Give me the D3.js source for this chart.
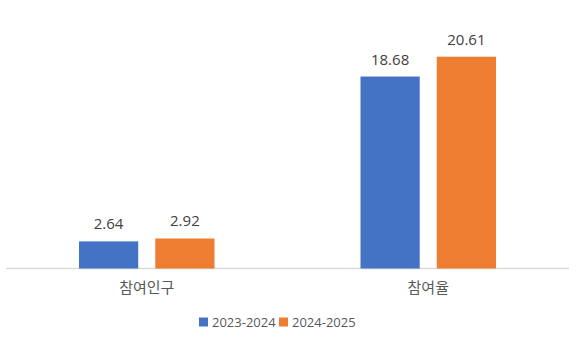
<!DOCTYPE html>
<html><head><meta charset="utf-8">
<script src="https://cdn.jsdelivr.net/npm/d3@7"></script>
<style>
html,body{margin:0;padding:0;background:#fff;}
text{font-family:"Open Sans","Noto Sans CJK KR",sans-serif;fill:#595959;}
</style></head>
<body><svg id="c" width="585" height="341"></svg>
<script>
const categories = ["참여인구", "참여율"];
const seriesNames = ["2023-2024", "2024-2025"];
const values2023 = [2.64, 18.68];
const values2024 = [2.92, 20.61];
const colors = ["#4472C4", "#ED7D31"];

(function () {
const svg = d3.select("#c");
const leftX = 6, rightX = 569, baseline = 268.5, topY = 56.7;
const x = d3.scaleBand().domain(categories).range([leftX, rightX]).paddingInner(0).paddingOuter(0);
const inner = d3.scaleBand().domain(seriesNames).range([73, x.bandwidth() - 73]).paddingInner(17/76);
const y = d3.scaleLinear().domain([0, 20.61]).range([baseline, topY]);

const data = categories.map((c, i) => ({cat: c, vals: [values2023[i], values2024[i]]}));

svg.append("line").attr("x1", leftX).attr("x2", rightX).attr("y1", baseline).attr("y2", baseline)
  .attr("stroke", "#d9d9d9").attr("stroke-width", 1.3);

const g = svg.selectAll("g.grp").data(data).join("g").attr("class", "grp")
  .attr("transform", d => `translate(${x(d.cat)},0)`);

g.selectAll("rect").data(d => d.vals.map((v, j) => ({s: seriesNames[j], v, j})))
  .join("rect")
  .attr("x", d => inner(d.s)).attr("width", inner.bandwidth())
  .attr("y", d => y(d.v)).attr("height", d => baseline - y(d.v))
  .attr("fill", d => colors[d.j]);

g.selectAll("text.val").data(d => d.vals.map((v, j) => ({s: seriesNames[j], v, j})))
  .join("text").attr("class", "val")
  .attr("x", d => inner(d.s) + inner.bandwidth() / 2)
  .attr("y", d => y(d.v) - 12)
  .attr("text-anchor", "middle").style("font-size", "15px").style("fill", "#404040")
  .text(d => d.v.toFixed(2));

svg.selectAll("text.cat").data(categories).join("text").attr("class", "cat")
  .attr("x", d => x(d) + x.bandwidth() / 2).attr("y", 292.5)
  .attr("text-anchor", "middle").style("font-size", "15px")
  .style("font-family", "'Noto Sans CJK KR', sans-serif")
  .text(d => d);

const legendX = [199, 279];
const lg = svg.selectAll("g.lg").data(seriesNames).join("g").attr("class", "lg")
  .attr("transform", (d, i) => `translate(${legendX[i]},322)`);
lg.append("rect").attr("x", 0).attr("y", -4.5).attr("width", 9).attr("height", 9)
  .attr("fill", (d, i) => colors[i]);
lg.append("text").attr("x", 13).attr("y", 4.5).style("font-size", "13px").text(d => d);
})();
</script></body></html>
